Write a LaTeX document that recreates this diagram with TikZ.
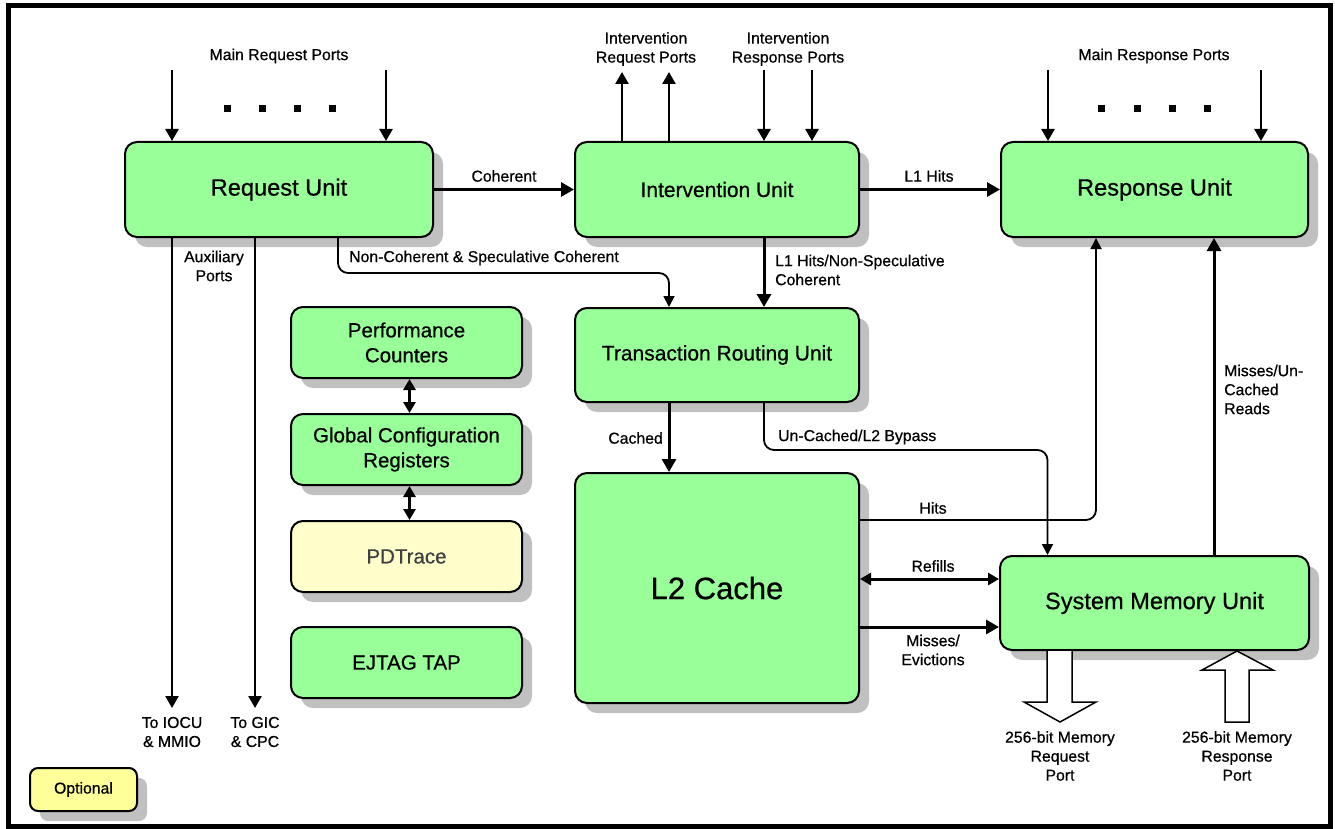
\documentclass[tikz,border=0pt]{standalone}
\usepackage{fontspec}
\setmainfont{Liberation Sans}[FakeBold=0.6]
\usetikzlibrary{arrows.meta,shadows}
\definecolor{unitgreen}{HTML}{99FF99}
\definecolor{optyellow}{HTML}{FFFF99}
\definecolor{traceyellow}{HTML}{FFFFCC}
\definecolor{shadowgray}{HTML}{C0C0C0}
\definecolor{tracetext}{HTML}{404040}

\begin{document}
\begin{tikzpicture}[x=1pt,y=-1pt,
  unit/.style={draw=black, line width=2pt, rounded corners=12pt, fill=unitgreen,
    drop shadow={shadow xshift=10pt, shadow yshift=-10pt, fill=shadowgray, opacity=1},
    align=center, inner sep=0pt},
  bigtext/.style={font=\fontsize{23.6}{28}\selectfont},
  midtext/.style={font=\fontsize{21}{25}\selectfont},
  lbl/.style={font=\fontsize{15.8}{19}\selectfont, align=center, inner sep=0pt},
  thickarrow/.style={line width=3pt, -{Triangle[length=13pt,width=14pt]}},
  portarrow/.style={line width=2.5pt, -{Triangle[length=12pt,width=13pt]}},
  thinarrow/.style={line width=1.8pt, rounded corners=10pt, -{Triangle[length=11pt,width=11pt]}},
  twoway/.style={line width=3pt, {Triangle[length=11pt,width=12pt]}-{Triangle[length=11pt,width=12pt]}},
  dot/.style={fill=black, minimum size=7pt, inner sep=0pt},
  hollow/.style={draw=black, line width=1.5pt, fill=white, line join=miter}
]
\useasboundingbox (0,0) rectangle (1335,829);
\fill[white] (0,0) rectangle (1335,829);

% outer frame
\draw[line width=5pt] (8,6) rectangle (1330,826);

% ---------- units ----------
\node[unit, bigtext, minimum width=308pt, minimum height=95pt] (ru) at (279,189.5) {Request Unit};
\node[unit, midtext, minimum width=284pt, minimum height=95pt] (iu) at (717,189.5) {Intervention Unit};
\node[unit, bigtext, minimum width=307pt, minimum height=95pt] (rsu) at (1154.5,189.5) {Response Unit};
\node[unit, midtext, minimum width=284pt, minimum height=94pt] (tru) at (717,355) {Transaction Routing Unit};
\node[unit, font=\fontsize{31}{36}\selectfont, minimum width=284pt, minimum height=230pt] (l2) at (717,588) {L2 Cache};
\node[unit, bigtext, minimum width=309pt, minimum height=94pt] (smu) at (1154.5,603) {System Memory Unit};

\node[unit, font=\fontsize{20.5}{25}\selectfont, minimum width=231pt, minimum height=71pt] (pc) at (406.5,342.5) {Performance\\Counters};
\node[unit, font=\fontsize{20.5}{25}\selectfont, minimum width=231pt, minimum height=71pt] (gcr) at (406.5,449.5) {Global Configuration\\Registers};
\node[unit, fill=traceyellow, text=tracetext, font=\fontsize{20.5}{25}\selectfont, minimum width=231pt, minimum height=71pt] (pdt) at (406.5,556.5) {PDTrace};
\node[unit, font=\fontsize{20.5}{25}\selectfont, minimum width=231pt, minimum height=71pt] (ejt) at (406.5,662.5) {EJTAG TAP};

\node[unit, fill=optyellow, lbl, minimum width=107pt, minimum height=43pt, rounded corners=8pt] (opt) at (83.5,789.5) {Optional};

% ---------- port arrows ----------
\coordinate (mq1) at (172,70);
\coordinate (mq2) at (386,70);
\draw[portarrow] (mq1) -- (ru.north -| mq1);
\draw[portarrow] (mq2) -- (ru.north -| mq2);
\foreach \i/\x in {1/227,2/262,3/297,4/332} \node[dot] (rqdot\i) at (\x,109) {};
\node[lbl] (mqlbl) at (279,56) {Main Request Ports};

\coordinate (iq1) at (622,72);
\coordinate (iq2) at (669,72);
\draw[portarrow] (iu.north -| iq1) -- (iq1);
\draw[portarrow] (iu.north -| iq2) -- (iq2);
\node[lbl] (iqlbl) at (646,49) {Intervention\\Request Ports};

\coordinate (ir1) at (764,70);
\coordinate (ir2) at (812,70);
\draw[portarrow] (ir1) -- (iu.north -| ir1);
\draw[portarrow] (ir2) -- (iu.north -| ir2);
\node[lbl] (irlbl) at (788,49) {Intervention\\Response Ports};

\coordinate (mr1) at (1048,70);
\coordinate (mr2) at (1261,70);
\draw[portarrow] (mr1) -- (rsu.north -| mr1);
\draw[portarrow] (mr2) -- (rsu.north -| mr2);
\foreach \i/\x in {1/1101,2/1137,3/1172,4/1207} \node[dot] (rsdot\i) at (\x,109) {};
\node[lbl] (mrlbl) at (1154,56) {Main Response Ports};

% ---------- auxiliary ports ----------
\coordinate (aux1) at (172,708);
\coordinate (aux2) at (255,708);
\draw[portarrow] (ru.south -| aux1) -- (aux1);
\draw[portarrow] (ru.south -| aux2) -- (aux2);
\node[lbl] (auxlbl) at (214,266) {Auxiliary\\Ports};
\node[lbl] (aux1lbl) at (172,732) {To IOCU\\\& MMIO};
\node[lbl] (aux2lbl) at (255,732) {To GIC\\\& CPC};

% ---------- unit-to-unit flows ----------
\draw[thickarrow] (ru.east) -- (iu.west);
\node[lbl] (cohlbl) at (504,176) {Coherent};

\draw[thickarrow] (iu.east) -- (rsu.west);
\node[lbl] (l1lbl) at (929,176) {L1 Hits};

\draw[thinarrow] ([xshift=59pt]ru.south) -- ++(0,35) -| ([xshift=-48pt]tru.north);
\node[lbl, anchor=west] (nclbl) at (349,258) {Non-Coherent \& Speculative Coherent};

\draw[thickarrow] ([xshift=47pt]iu.south) -- ([xshift=47pt]tru.north);
\node[lbl, anchor=west, align=left] (nslbl) at (775,270) {L1 Hits/Non-Speculative\\Coherent};

\draw[thickarrow] ([xshift=-48pt]tru.south) -- ([xshift=-48pt]l2.north);
\node[lbl, anchor=east] (cachlbl) at (663,438) {Cached};

\draw[thinarrow] ([xshift=47pt]tru.south) -- ++(0,47) -| ([xshift=-107pt]smu.north);
\node[lbl, anchor=west] (byplbl) at (778,437) {Un-Cached/L2 Bypass};

\coordinate (hitsy) at (930,520);
\draw[thinarrow] (l2.east |- hitsy) -| ([xshift=-58.5pt]rsu.south);
\node[lbl] (hitslbl) at (933,508) {Hits};

\draw[thickarrow] ([xshift=59.5pt]smu.north) -- ([xshift=59.5pt]rsu.south);
\node[lbl, anchor=west, align=left] (mulbl) at (1224,389.5) {Misses/Un-\\Cached\\Reads};

\coordinate (refy) at (930,579);
\draw[twoway] (l2.east |- refy) -- (smu.west |- refy);
\node[lbl] (reflbl) at (933,566) {Refills};

\coordinate (evy) at (930,627);
\draw[thickarrow] (l2.east |- evy) -- (smu.west |- evy);
\node[lbl] (evlbl) at (933,650) {Misses/\\Evictions};

% ---------- configuration column ----------
\draw[twoway] ([xshift=3pt]pc.south) -- ([xshift=3pt]gcr.north);
\draw[twoway] ([xshift=3pt]gcr.south) -- ([xshift=3pt]pdt.north);

% ---------- memory ports ----------
\draw[hollow] (1047,651) -- (1047,702) -- (1024,702) -- (1060,722) -- (1096,702)
  -- (1072,702) -- (1072,651);
\draw[hollow] (1225,722) -- (1225,670) -- (1202,670) -- (1237,651) -- (1273,670)
  -- (1249,670) -- (1249,722) -- cycle;
\node[lbl] (mreqlbl) at (1060,756) {256-bit Memory\\Request\\Port};
\node[lbl] (mrsplbl) at (1237,756) {256-bit Memory\\Response\\Port};

\end{tikzpicture}
\end{document}
